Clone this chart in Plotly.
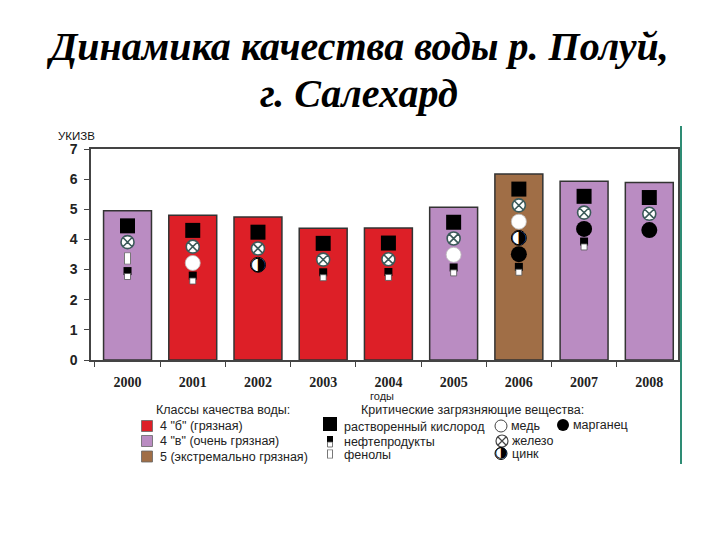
import plotly.graph_objects as go

# ---------------- data ----------------
years = ["2000", "2001", "2002", "2003", "2004", "2005", "2006", "2007", "2008"]
ukizv = [4.95, 4.80, 4.74, 4.37, 4.38, 5.07, 6.17, 5.93, 5.89]
quality_class = ["4в", "4б", "4б", "4б", "4б", "4в", "5", "4в", "4в"]
# critical pollutants, listed top to bottom inside each bar
pollutants = [
    ["O2", "Fe", "Ph", "Oil"],
    ["O2", "Fe", "Cu", "Oil"],
    ["O2", "Fe", "Zn"],
    ["O2", "Fe", "Oil"],
    ["O2", "Fe", "Oil"],
    ["O2", "Fe", "Cu", "Oil"],
    ["O2", "Fe", "Cu", "Zn", "Mn", "Oil"],
    ["O2", "Fe", "Mn", "Oil"],
    ["O2", "Fe", "Mn"],
]
y_ticks = [0, 1, 2, 3, 4, 5, 6, 7]

class_colors = {"4б": "#DD1F27", "4в": "#BA8CC2", "5": "#A06E46"}
class_labels = {"4б": '4 "б" (грязная)', "4в": '4 "в" (очень грязная)', "5": "5 (экстремально грязная)"}

# ---------------- layout geometry (reference pixel coords) ----------------
OFF = 8                      # page body margin of the browser
W, H = 720 - OFF, 540 - OFF
PLOT_L, PLOT_R, PLOT_T, PLOT_B = 91, 678, 149, 480   # outer frame incl. legend zone
AX_BOTTOM = 360
L, T = PLOT_L - OFF, PLOT_T - OFF
R, B = W - (PLOT_R - OFF), H - (PLOT_B - OFF)
PW, PH = PLOT_R - PLOT_L, PLOT_B - PLOT_T
y_dom0 = (PLOT_B - AX_BOTTOM) / PH


def pxp(x):  # reference pixel -> paper x
    return (x - PLOT_L) / PW


def pyp(y):  # reference pixel -> paper y
    return (PLOT_B - y) / PH


SANS = "Liberation Sans, Arial"
SERIF = "Liberation Serif, Times New Roman"

fig = go.Figure()

# bars
fig.add_trace(go.Bar(
    x=years, y=ukizv, width=0.735,
    marker=dict(color=[class_colors[c] for c in quality_class],
                line=dict(color="#333333", width=1.5)),
    hoverinfo="skip", showlegend=False,
))

# pollutant marker positions (stacked downward from bar top)
pts = {k: ([], []) for k in ["O2", "Fe", "Cu", "Zn", "Mn", "Oil", "Ph"]}
for yr, top, plist in zip(years, ukizv, pollutants):
    y = top - 0.5
    for i, p in enumerate(plist):
        if i > 0:
            y -= 0.42 if p == "Oil" else 0.54
        pts[p][0].append(yr)
        pts[p][1].append(y)


def sc(xs, ys, **kw):
    fig.add_trace(go.Scatter(x=xs, y=ys, hoverinfo="skip", showlegend=False, **kw))


sc(*pts["O2"], mode="markers", marker=dict(symbol="square", size=15, color="black"))
sc(*pts["Fe"], mode="markers", marker=dict(symbol="circle-x", size=13, color="white",
                                           line=dict(color="#3C5A5A", width=1.6)))
sc(*pts["Cu"], mode="markers", marker=dict(symbol="circle", size=15, color="white",
                                           line=dict(color="#BBBBBB", width=0.8)))
sc(*pts["Mn"], mode="markers", marker=dict(symbol="circle", size=16, color="black"))
sc(*pts["Zn"], mode="markers", marker=dict(symbol="circle", size=15, color="white",
                                           line=dict(color="black", width=1)))
sc(*pts["Zn"], mode="text", text=["◑"] * len(pts["Zn"][0]), textposition="middle center",
   textfont=dict(family="DejaVu Sans", size=19, color="black"))
sc(*pts["Oil"], mode="markers", marker=dict(symbol="square", size=8, color="black"))
sc(pts["Oil"][0], [v - 0.18 for v in pts["Oil"][1]], mode="markers",
   marker=dict(symbol="square", size=6, color="white", line=dict(color="#555555", width=0.8)))
sc(*pts["Ph"], mode="markers", marker=dict(symbol="line-ns", size=8.5, line=dict(color="#777777", width=7)))
sc(*pts["Ph"], mode="markers", marker=dict(symbol="line-ns", size=7.5, line=dict(color="white", width=5)))

# ---------------- custom legend on an invisible pixel-coordinate axis ----------------
y2_dom = [0, y_dom0 - 0.02]
y2_top_pix = PLOT_B - y2_dom[1] * PH
LX, LY = "x2", "y2"


def leg_marker(x, y, **m):
    fig.add_trace(go.Scatter(x=[x], y=[y], mode="markers", xaxis=LX, yaxis=LY,
                             marker=m, hoverinfo="skip", showlegend=False))


ann = []


def leg_text(x, y, s, size=12.5, anchor="left"):
    ann.append(dict(x=x, y=y, xref=LX, yref=LY, text=s, showarrow=False, xanchor=anchor,
                    yanchor="middle", font=dict(family=SANS, size=size, color="#222")))


leg_text(222.5, 410, "Классы качества воды:", anchor="center")
for cls, yy in zip(["4б", "4в", "5"], [426, 441, 456.5]):
    leg_marker(147, yy, symbol="square", size=11, color=class_colors[cls], line=dict(color="#666", width=0.8))
    leg_text(158, yy, class_labels[cls])

leg_text(472.5, 410, "Критические загрязняющие вещества:", anchor="center")
leg_marker(330, 424, symbol="square", size=14, color="black")
leg_text(342, 427, "растворенный кислород")
leg_marker(330, 439, symbol="square", size=6, color="black")
leg_marker(330, 444.5, symbol="square", size=5, color="white", line=dict(color="#555", width=0.8))
leg_text(342, 441.5, "нефтепродукты")
leg_marker(330, 454, symbol="line-ns", size=6.5, line=dict(color="#777", width=6))
leg_marker(330, 454, symbol="line-ns", size=5.5, line=dict(color="white", width=4))
leg_text(342, 455, "фенолы")
leg_marker(501, 426, symbol="circle", size=12, color="white", line=dict(color="#444", width=1))
leg_text(509, 426, "медь")
leg_marker(563, 425, symbol="circle", size=12, color="black")
leg_text(571, 425, "марганец")
leg_marker(502, 441, symbol="circle-x", size=12, color="white", line=dict(color="#444", width=1.2))
leg_text(510, 441, "железо")
leg_marker(501, 453.5, symbol="circle", size=12, color="white", line=dict(color="black", width=1))
fig.add_trace(go.Scatter(x=[501], y=[453.5], mode="text", text=["◑"], xaxis=LX, yaxis=LY,
                         textfont=dict(family="DejaVu Sans", size=15, color="black"),
                         hoverinfo="skip", showlegend=False))
leg_text(510, 454, "цинк")

# axis title labels
ann.append(dict(x=pxp(56), y=pyp(136), xref="paper", yref="paper", text="УКИЗВ", showarrow=False,
                xanchor="left", yanchor="middle", font=dict(family=SANS, size=11.5, color="#111")))
ann.append(dict(x=pxp(382), y=pyp(396), xref="paper", yref="paper", text="годы", showarrow=False,
                xanchor="center", yanchor="middle", font=dict(family=SANS, size=11, color="#222")))
# title
ann.append(dict(x=pxp(357.5), y=pyp(46), xref="paper", yref="paper",
                text="<b><i>Динамика качества воды р. Полуй,</i></b>", showarrow=False,
                xanchor="center", yanchor="middle", font=dict(family=SERIF, size=40, color="black")))
ann.append(dict(x=pxp(358.5), y=pyp(94), xref="paper", yref="paper",
                text="<b><i>г. Салехард</i></b>", showarrow=False,
                xanchor="center", yanchor="middle", font=dict(family=SERIF, size=40, color="black")))

fig.update_layout(
    width=W, height=H,
    margin=dict(l=L, r=R, t=T, b=B, autoexpand=False),
    paper_bgcolor="white", plot_bgcolor="white",
    showlegend=False,
    annotations=ann,
    xaxis=dict(type="category", categoryorder="array", categoryarray=years,
               range=[-0.56, 8.44], tickson="boundaries",
               showline=True, linecolor="#444", linewidth=1.5, mirror=True,
               ticks="outside", ticklen=5, tickcolor="#444", tickwidth=1.2,
               showgrid=False, zeroline=False, anchor="y",
               ticklabelstandoff=8,
               tickfont=dict(family=SERIF, size=14, color="#222"),
               tickvals=years, ticktext=[f"<b>{y}</b>" for y in years]),
    yaxis=dict(domain=[y_dom0, 1], range=[0, 7], tickvals=y_ticks,
               ticktext=[f"<b>{v}</b>" for v in y_ticks],
               showline=True, linecolor="#444", linewidth=1.5, mirror=True,
               ticks="outside", ticklen=5, tickcolor="#444", tickwidth=1.2,
               showgrid=False, zeroline=False, ticklabelstandoff=4,
               tickfont=dict(family=SANS, size=14, color="#222")),
    xaxis2=dict(domain=[0, 1], range=[PLOT_L, PLOT_R], anchor="y2", visible=False, fixedrange=True),
    yaxis2=dict(domain=y2_dom, range=[PLOT_B, y2_top_pix], anchor="x2", visible=False, fixedrange=True),
    shapes=[dict(type="line", xref="paper", yref="paper", x0=pxp(681), x1=pxp(681),
                 y0=pyp(126), y1=pyp(464), line=dict(color="#2E8C74", width=2))],
)

fig.write_html("out.html")
